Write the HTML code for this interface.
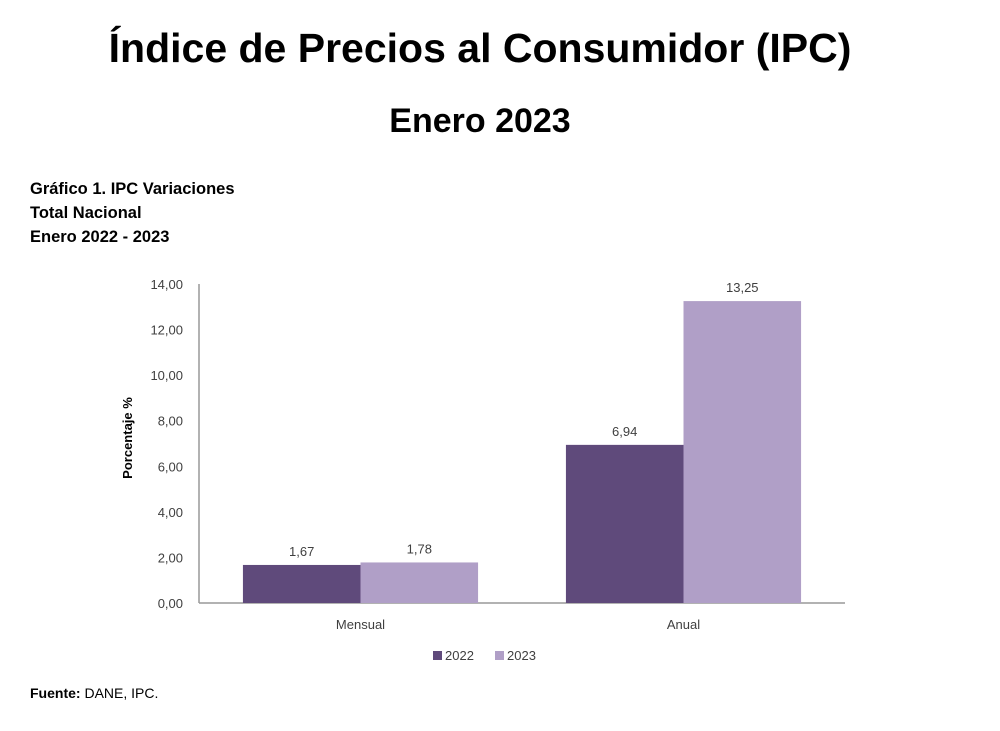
<!DOCTYPE html>
<html><head><meta charset="utf-8"><style>
body{margin:0;width:1000px;height:731px;background:#fff;font-family:"Liberation Sans",sans-serif;overflow:hidden;position:relative}
.t{position:absolute;left:0;width:960px;text-align:center;font-weight:bold;color:#000}
</style></head><body>
<div class="t" style="top:25px;font-size:41px">Índice de Precios al Consumidor (IPC)</div>
<div class="t" style="top:102px;font-size:34px">Enero 2023</div>
<div style="position:absolute;left:30px;top:177px;font-size:16.5px;font-weight:bold;line-height:24px">Gráfico 1. IPC Variaciones<br>Total Nacional<br>Enero 2022 - 2023</div>
<svg id="c" width="1000" height="731" style="position:absolute;left:0;top:0"></svg>
<div style="position:absolute;left:30px;top:685px;font-size:14px"><b>Fuente:</b> DANE, IPC.</div>
<script>
const categories=["Mensual","Anual"];
const series2022=[1.67,6.94];
const series2023=[1.78,13.25];
const seriesNames=["2022","2023"];
const ticks=[0,2,4,6,8,10,12,14];
const svg=document.getElementById('c');const NS="http://www.w3.org/2000/svg";
const x0=199,x1=845,y0=603,yTop=284,ymax=14;
const y=v=>y0-(v/ymax)*(y0-yTop);
const band=(x1-x0)/categories.length;
const colors=["#5f4a7b","#b09fc7"];
function mk(t,a,txt){const e=document.createElementNS(NS,t);for(const k in a)e.setAttribute(k,a[k]);if(txt!=null)e.textContent=txt;svg.appendChild(e);return e;}
const fmt=v=>v.toFixed(2).replace('.',',');
ticks.forEach(v=>{const e=mk('text',{x:183,y:y(v)+5,'text-anchor':'end','font-size':13,fill:'#404040'},fmt(v));

});
let a=mk('line',{x1:x0,y1:yTop,x2:x0,y2:y0,stroke:'#999','stroke-width':1.5});


a=mk('line',{x1:x0,y1:y0,x2:x1,y2:y0,stroke:'#999','stroke-width':1.5});


const yt=mk('text',{x:0,y:0,'font-size':13,'font-weight':'bold','text-anchor':'middle',transform:'translate(132,438) rotate(-90)'},'Porcentaje %');


const bw=band*0.364;
categories.forEach((c,i)=>{const cx=x0+band*(i+0.5);
[series2022,series2023].forEach((s,j)=>{const bx=cx+(j-1)*bw;
const r=mk('rect',{x:bx,y:y(s[i]),width:bw,height:y0-y(s[i]),fill:colors[j]});


const l=mk('text',{x:bx+bw/2,y:y(s[i])-9,'text-anchor':'middle','font-size':13,fill:'#404040'},fmt(s[i]));

});
const t=mk('text',{x:cx,y:629,'text-anchor':'middle','font-size':13,fill:'#404040'},c);

});
seriesNames.forEach((n,j)=>{const lx=433+j*62;
const s=mk('rect',{x:lx,y:651,width:9,height:9,fill:colors[j]});


const t=mk('text',{x:lx+12,y:660,'font-size':13,fill:'#404040'},n);

});
</script>
</body></html>
